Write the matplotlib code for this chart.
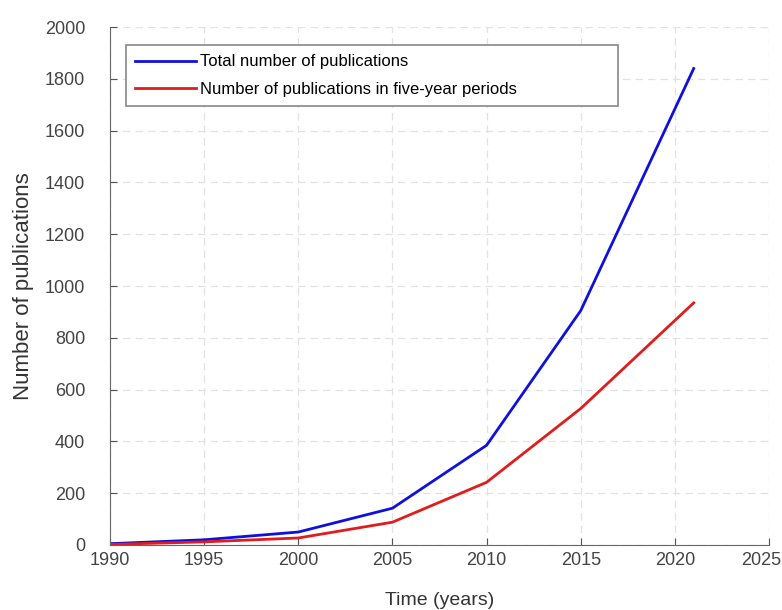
import matplotlib.pyplot as plt
import matplotlib.transforms as mtransforms

plt.rcParams['font.family'] = ['Liberation Sans', 'DejaVu Sans']

# data
years = [1990, 1995, 2000, 2005, 2010, 2015, 2021]
total_pubs = [5, 20, 50, 142, 385, 905, 1840]
five_year_pubs = [2, 12, 27, 88, 242, 527, 935]

fig = plt.figure(figsize=(7.82, 6.1), dpi=100)
ax = fig.add_axes([0.1407, 0.1066, 0.8427, 0.849])

ax.plot(years, total_pubs, color='#1010dd', lw=2, label='Total number of publications')
ax.plot(years, five_year_pubs, color='#e01c1c', lw=2, label='Number of publications in five-year periods')

ax.set_xlim(1990, 2025)
ax.set_ylim(0, 2000)
ax.set_xticks(range(1990, 2026, 5))
ax.set_yticks(range(0, 2001, 200))
ax.tick_params(direction='in', labelsize=13, colors='#555555', labelcolor='#444444', length=5)
ax.tick_params(axis='y', pad=18)
ax.tick_params(axis='x', pad=5)
for s in ['top', 'right']:
    ax.spines[s].set_visible(False)
for s in ['left', 'bottom']:
    ax.spines[s].set_color('#666666')

ax.grid(True, linestyle=(0, (6, 4)), color='#e2e2e2', lw=0.9)
ax.set_xlabel('Time (years)', fontsize=14, color='#333333')
ax.set_ylabel('Number of publications', fontsize=16, color='#333333')
ax.xaxis.set_label_coords(0.5, -0.09)
ax.yaxis.set_label_coords(-0.115, 0.5)

# last x label sits a bit to the left so it stays inside the picture
fig.canvas.draw()
last = ax.get_xticklabels()[-1]
last.set_transform(last.get_transform() + mtransforms.ScaledTranslation(-8 / 100, 0, fig.dpi_scale_trans))

leg = ax.legend(loc='upper left', bbox_to_anchor=(0.0243, 0.965 - 0.122, 0.747, 0.122),
                mode='expand', fontsize=12, fancybox=False, framealpha=1,
                edgecolor='#888888', handlelength=3.65, handletextpad=0.25,
                borderpad=0.55, labelspacing=0.75, borderaxespad=0)
leg.get_frame().set_linewidth(1.2)

fig.savefig('out.png', dpi=100)
